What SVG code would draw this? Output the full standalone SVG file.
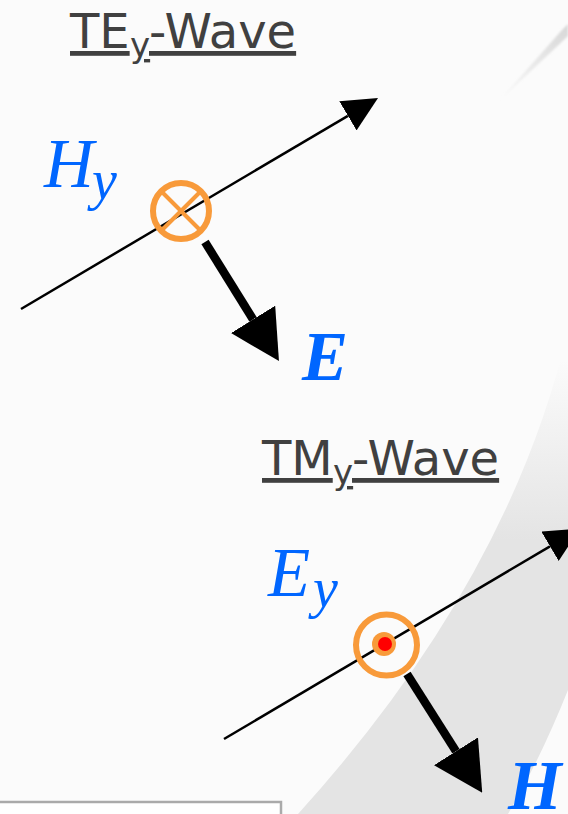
<svg xmlns="http://www.w3.org/2000/svg" width="568" height="814" viewBox="0 0 568 814">
  <style>
    .title { font-family: "DejaVu Sans", "Verdana", sans-serif; fill: #404040; text-decoration: underline; }
    .main { font-size: 48px; }
    .sub { font-size: 34px; }
    .math { font-family: "Liberation Serif", "Times New Roman", serif; font-style: italic; fill: #0066ff; }
    .mathbig { font-size: 69px; }
    .mathsub { font-size: 56px; }
    .bold { font-weight: bold; }
    .ring { fill: none; stroke: #f89a3a; stroke-width: 6; }
    .cross { stroke: #f89a3a; stroke-width: 4; }
    .thin { stroke: #000; stroke-width: 2.5; fill: none; }
    .thick { stroke: #000; stroke-width: 8.5; fill: none; }
  </style>
  <defs>
    <marker id="headThin" viewBox="0 -17 35 34" refX="0" refY="0" markerWidth="35" markerHeight="34" markerUnits="userSpaceOnUse" orient="auto">
      <path d="M0,-17 L35,0 L0,17 Z" fill="#000"/>
    </marker>
    <marker id="headThick" viewBox="0 -26 49 52" refX="0" refY="0" markerWidth="49" markerHeight="52" markerUnits="userSpaceOnUse" orient="auto">
      <path d="M0,-26 L49,0 L0,26 Z" fill="#000"/>
    </marker>
    <linearGradient id="bandGrad" x1="0" y1="360" x2="0" y2="540" gradientUnits="userSpaceOnUse">
      <stop offset="0" stop-color="#e4e4e4" stop-opacity="0"/>
      <stop offset="1" stop-color="#e4e4e4" stop-opacity="1"/>
    </linearGradient>
    <linearGradient id="streakGrad" x1="498" y1="102" x2="568" y2="26" gradientUnits="userSpaceOnUse">
      <stop offset="0" stop-color="#d8d8d8" stop-opacity="0"/>
      <stop offset="1" stop-color="#d8d8d8" stop-opacity="1"/>
    </linearGradient>
    <filter id="soft" x="-20%" y="-20%" width="140%" height="140%">
      <feGaussianBlur stdDeviation="1.2"/>
    </filter>
  </defs>

  <g id="background">
    <rect x="0" y="0" width="568" height="814" fill="#fbfbfb"/>
    <path d="M568 330 Q510 580 298 814 L508 814 Q540 760 568 690 Z" fill="url(#bandGrad)"/>
    <path d="M497 103 L562 30 L568 24 L568 36 Z" fill="url(#streakGrad)" filter="url(#soft)"/>
    <rect x="-5" y="802" width="286" height="30" fill="#ffffff" stroke="#aaaaaa" stroke-width="2.5"/>
  </g>

  <g id="title-te">
    <text class="title main" x="70" y="48">TE</text>
    <text class="title sub" x="130" y="57">y</text>
    <text class="title main" x="149" y="48">-Wave</text>
  </g>

  <g id="title-tm">
    <text class="title main" x="262" y="475">TM</text>
    <text class="title sub" x="333" y="484">y</text>
    <text class="title main" x="352" y="475">-Wave</text>
  </g>

  <g id="connectors">
    <line class="thin" x1="21" y1="309" x2="347.9" y2="115.8" marker-end="url(#headThin)"/>
    <line class="thick" x1="205" y1="242" x2="253.1" y2="319.4" marker-end="url(#headThick)"/>
    <line class="thin" x1="224" y1="739" x2="550" y2="546.3" marker-end="url(#headThin)"/>
    <line class="thick" x1="407" y1="674" x2="456" y2="751.3" marker-end="url(#headThick)"/>
  </g>

  <g id="node-hy-into">
    <circle class="ring" cx="181" cy="211" r="28"/>
    <line class="cross" x1="162" y1="192" x2="200" y2="230"/>
    <line class="cross" x1="200" y1="192" x2="162" y2="230"/>
  </g>

  <g id="node-ey-out">
    <circle class="ring" cx="386.5" cy="645" r="30.5"/>
    <circle cx="384" cy="644" r="12" fill="#f89a3a"/>
    <circle cx="385" cy="644" r="7" fill="#ff0000"/>
  </g>

  <g id="label-hy">
    <text class="math mathbig" x="44" y="187">H</text>
    <text class="math mathsub" x="92" y="199">y</text>
  </g>
  <g id="label-e">
    <text class="math mathbig bold" x="302" y="380">E</text>
  </g>
  <g id="label-ey">
    <text class="math mathbig" x="268" y="596">E</text>
    <text class="math mathsub" x="313" y="607">y</text>
  </g>
  <g id="label-h">
    <text class="math mathbig bold" x="508" y="809">H</text>
  </g>
</svg>
